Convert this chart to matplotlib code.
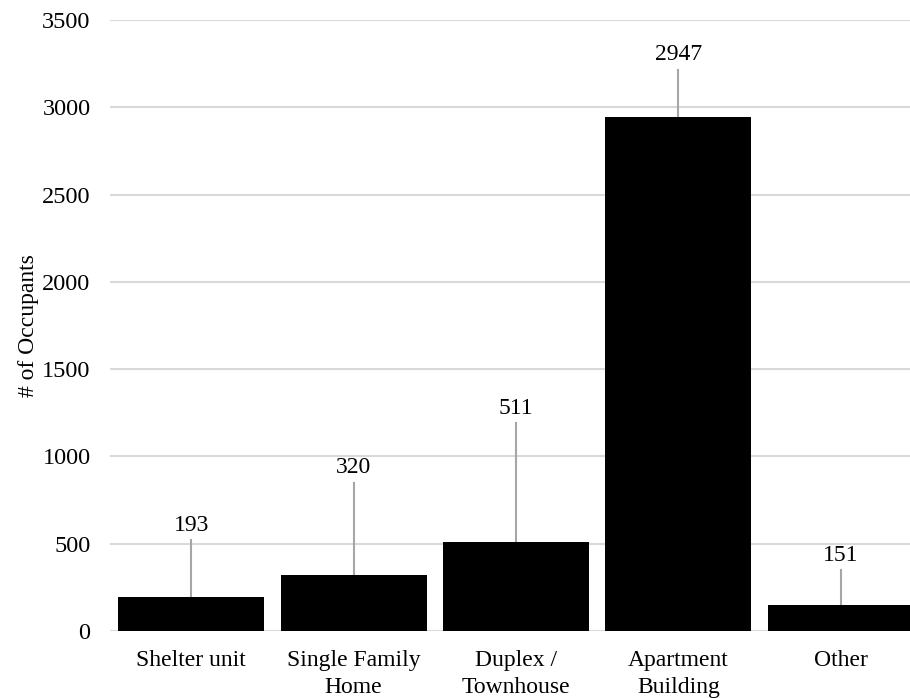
import matplotlib
matplotlib.use("Agg")
import matplotlib.pyplot as plt

categories = ["Shelter unit", "Single Family\nHome", "Duplex /\nTownhouse",
              "Apartment\nBuilding", "Other"]
occupants = [193, 320, 511, 2947, 151]
# vertical anchor of each value label (data units)
label_y = [607, 934, 1277, 3300, 435]
yticks = [0, 500, 1000, 1500, 2000, 2500, 3000, 3500]

plt.rcParams["font.family"] = ["Liberation Serif", "DejaVu Serif"]

fig = plt.figure(figsize=(9.1, 6.98), dpi=100)
ax = fig.add_axes([0.1209, 0.096, 0.8923, 0.8754])

x = list(range(len(categories)))
ax.bar(x, occupants, width=0.9, color="black", zorder=3)

for xi, v, ly in zip(x, occupants, label_y):
    ax.text(xi, ly, str(v), ha="center", va="center", fontsize=17, zorder=4)
    ax.plot([xi, xi], [ly - 85, v], color="#a6a6a6", lw=1.5, zorder=2)

ax.set_xlim(-0.5, len(categories) - 0.5)
ax.set_ylim(0, 3500)
ax.set_yticks(yticks)
ax.set_yticklabels([str(t) for t in yticks], fontsize=17.5)
ax.set_xticks(x)
ax.set_xticklabels(categories, fontsize=17, linespacing=1.35)
ax.tick_params(axis="both", length=0)
ax.tick_params(axis="y", pad=14)
ax.tick_params(axis="x", pad=14)
ax.grid(axis="y", color="#d9d9d9", lw=1.5, zorder=0)
ax.set_axisbelow(True)
for s in ax.spines.values():
    s.set_visible(False)
ax.set_ylabel("# of Occupants", fontsize=17)
ax.yaxis.set_label_coords(-0.087, 0.5)

fig.savefig("out.png", dpi=100)
